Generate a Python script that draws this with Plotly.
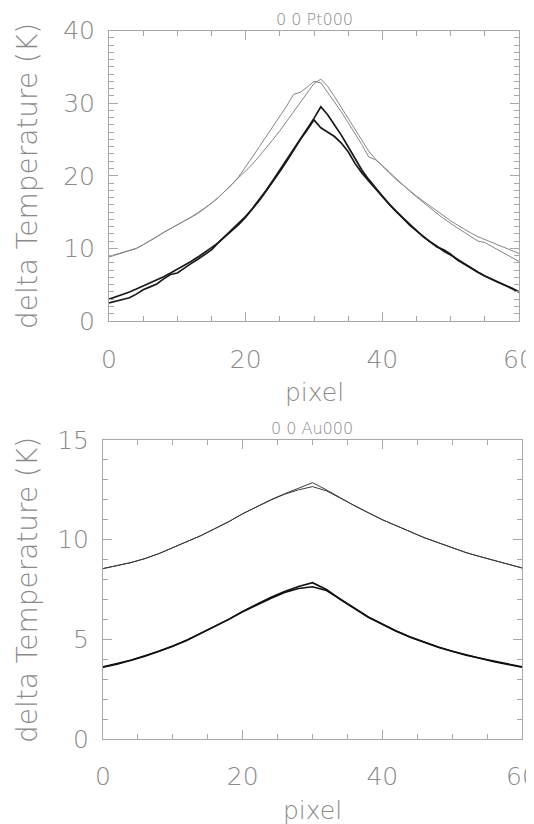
import plotly.graph_objects as go

# ---------------- data ----------------
pixel_top = list(range(61))

pt_gray_a = [8.8, 9.1, 9.4, 9.6, 10.0, 10.5, 11.0, 11.6, 12.2, 12.7,
             13.2, 13.7, 14.2, 14.8, 15.5, 16.2, 17.0, 17.9, 18.8, 19.9,
             21.2, 22.6, 24.0, 25.4, 26.9, 28.2, 29.6, 31.2, 31.5, 32.2,
             33.0, 32.8, 31.5, 30.2, 28.8, 27.3, 25.8, 24.3, 22.6, 22.2,
             21.4, 20.5, 19.6, 18.7, 17.9, 17.1, 16.3, 15.5, 14.8, 14.1,
             13.4, 12.8, 12.2, 11.6, 11.0, 10.8, 10.3, 9.7, 9.2, 8.7, 8.2]

pt_gray_b = [8.9, 9.2, 9.4, 9.7, 10.0, 10.5, 11.0, 11.6, 12.2, 12.7,
             13.2, 13.7, 14.3, 14.9, 15.5, 16.2, 17.0, 17.9, 18.8, 19.7,
             20.6, 21.6, 22.7, 23.8, 25.0, 26.2, 27.5, 28.8, 30.1, 31.4,
             32.7, 33.3, 32.3, 30.9, 29.4, 27.9, 26.4, 25.0, 23.4, 22.3,
             21.3, 20.4, 19.5, 18.7, 17.9, 17.2, 16.5, 15.8, 15.1, 14.4,
             13.8, 13.2, 12.6, 12.1, 11.6, 11.2, 10.8, 10.4, 10.0, 9.7, 9.3]

pt_black_c = [3.0, 3.3, 3.7, 4.0, 4.4, 4.8, 5.2, 5.6, 6.1, 6.6,
              7.1, 7.6, 8.2, 8.8, 9.4, 10.1, 10.8, 11.6, 12.4, 13.3,
              14.3, 15.4, 16.6, 17.9, 19.2, 20.6, 22.0, 23.5, 25.0, 26.3,
              27.7, 26.6, 26.0, 25.4, 24.5, 23.3, 21.7, 20.4, 19.3, 18.2,
              17.2, 16.1, 15.1, 14.2, 13.3, 12.4, 11.6, 10.9, 10.2, 9.8,
              9.2, 8.4, 7.8, 7.2, 6.7, 6.2, 5.8, 5.4, 5.0, 4.5, 4.0]

pt_black_d = [2.5, 2.7, 3.0, 3.2, 3.7, 4.3, 4.7, 5.1, 5.8, 6.4,
              6.6, 7.3, 7.9, 8.5, 9.1, 9.8, 10.8, 11.7, 12.5, 13.4,
              14.4, 15.5, 16.7, 18.0, 19.4, 20.8, 22.2, 23.6, 25.0, 26.4,
              27.9, 29.5, 28.4, 27.0, 25.6, 24.0, 22.4, 20.8, 19.5, 18.3,
              17.2, 16.1, 15.1, 14.1, 13.2, 12.4, 11.6, 10.9, 10.3, 9.6,
              9.1, 8.5, 7.8, 7.2, 6.7, 6.2, 5.7, 5.3, 4.9, 4.5, 4.0]

pixel_bot = list(range(0, 61, 2))

au_upper_e = [8.55, 8.7, 8.85, 9.05, 9.3, 9.6, 9.9, 10.2, 10.55, 10.9,
              11.3, 11.65, 12.0, 12.3, 12.6, 12.86, 12.5, 12.1, 11.7, 11.35,
              11.0, 10.7, 10.4, 10.1, 9.85, 9.6, 9.35, 9.15, 8.95, 8.75, 8.58]
au_upper_f = [8.55, 8.7, 8.85, 9.05, 9.3, 9.6, 9.9, 10.2, 10.55, 10.9,
              11.3, 11.65, 11.98, 12.28, 12.5, 12.66, 12.45, 12.08, 11.7, 11.35,
              11.0, 10.7, 10.4, 10.1, 9.85, 9.6, 9.35, 9.15, 8.95, 8.75, 8.58]
au_lower_g = [3.6, 3.75, 3.95, 4.15, 4.4, 4.65, 4.95, 5.3, 5.65, 6.0,
              6.4, 6.75, 7.1, 7.4, 7.65, 7.84, 7.5, 7.0, 6.55, 6.1,
              5.75, 5.4, 5.1, 4.85, 4.6, 4.4, 4.2, 4.05, 3.9, 3.75, 3.62]
au_lower_h = [3.62, 3.78, 3.95, 4.18, 4.4, 4.66, 4.95, 5.3, 5.63, 6.0,
              6.38, 6.72, 7.05, 7.35, 7.55, 7.64, 7.45, 7.02, 6.57, 6.12,
              5.77, 5.42, 5.12, 4.85, 4.62, 4.4, 4.22, 4.05, 3.88, 3.74, 3.6]

titles = ["0 0 Pt000", "0 0 Au000"]
x_title = "pixel"
y_title = "delta Temperature (K)"

# ---------------- figure ----------------
W, H = 534, 824
OFF = 8  # page body margin offset
FONT = "DejaVu Sans, sans-serif"
TXT = "#8a8a8a"
FRAME = "#a8a8a8"

fig = go.Figure()

def add(x, y, color, width, xa, ya):
    fig.add_trace(go.Scatter(x=x, y=y, mode="lines",
                             line=dict(color=color, width=width),
                             xaxis=xa, yaxis=ya, showlegend=False,
                             hoverinfo="skip"))

add(pixel_top, pt_gray_a, "#858585", 1.0, "x", "y")
add(pixel_top, pt_gray_b, "#858585", 1.0, "x", "y")
add(pixel_top, pt_black_c, "#1a1a1a", 1.7, "x", "y")
add(pixel_top, pt_black_d, "#1a1a1a", 1.7, "x", "y")

add(pixel_bot, au_upper_e, "#3a3a3a", 1.0, "x2", "y2")
add(pixel_bot, au_upper_f, "#3a3a3a", 1.0, "x2", "y2")
add(pixel_bot, au_lower_g, "#111111", 1.6, "x2", "y2")
add(pixel_bot, au_lower_h, "#111111", 1.6, "x2", "y2")

def px_x(p):
    return (p - OFF) / W

def px_y(p):
    return 1 - (p - OFF) / H

def axis_common():
    return dict(showgrid=False, zeroline=False, showline=True, automargin=False,
                linecolor=FRAME, linewidth=1, mirror="ticks",
                ticks="inside", tickcolor=FRAME, tickwidth=1, ticklen=9,
                ticklabeloverflow="allow",
                tickfont=dict(family=FONT, size=25, color=TXT, weight=200))

# top panel
xa = axis_common()
xa.update(domain=[px_x(109), px_x(519)], range=[0, 60], tickvals=[0, 20, 40, 60],
          minor=dict(ticks="inside", dtick=5, ticklen=5, tickcolor=FRAME),
          anchor="y", ticklabelstandoff=16)
ya = axis_common()
ya.update(domain=[px_y(321), px_y(30.5)], range=[0, 40], tickvals=[0, 10, 20, 30, 40],
          minor=dict(ticks="inside", dtick=1, ticklen=5, tickcolor=FRAME),
          anchor="x", ticklabelstandoff=8)

# bottom panel
xb = axis_common()
xb.update(domain=[px_x(103), px_x(522)], range=[0, 60], tickvals=[0, 20, 40, 60],
          minor=dict(ticks="inside", dtick=5, ticklen=5, tickcolor=FRAME),
          anchor="y2", ticklabelstandoff=15)
yb = axis_common()
yb.update(domain=[px_y(739), px_y(440)], range=[0, 15], tickvals=[0, 5, 10, 15],
          minor=dict(ticks="inside", dtick=1, ticklen=5, tickcolor=FRAME),
          anchor="x2", ticklabelstandoff=8)

ann = []
def label(text, x, y, size, angle=0):
    ann.append(dict(text=text, x=px_x(x), y=px_y(y), xref="paper", yref="paper",
                    showarrow=False, textangle=angle, xanchor="center", yanchor="middle",
                    font=dict(family=FONT, size=size, color=TXT, weight=200)))

label(titles[0], 314, 19, 16)
label(titles[1], 312, 428, 16)
label(x_title, 314, 392, 25)
label(x_title, 312, 810, 25)
label(y_title, 27, 176, 28, -90)
label(y_title, 27, 590, 28, -90)

fig.update_layout(template="none", width=W, height=H, autosize=False,
                  margin=dict(l=0, r=0, t=0, b=0, pad=0),
                  paper_bgcolor="white", plot_bgcolor="white",
                  xaxis=xa, yaxis=ya, xaxis2=xb, yaxis2=yb,
                  annotations=ann)

fig.write_html("out.html")
